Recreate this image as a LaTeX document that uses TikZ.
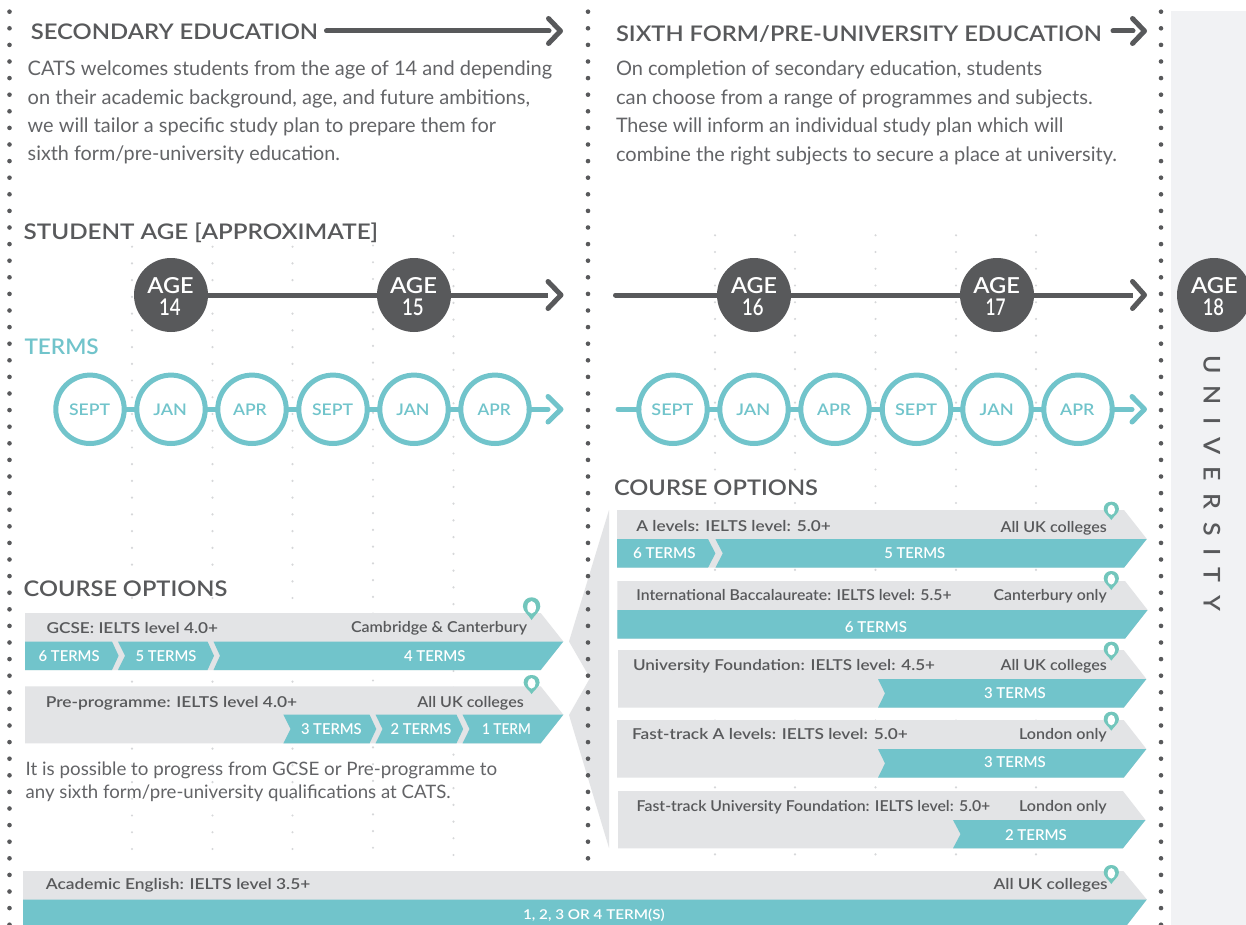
\documentclass[tikz,border=0pt]{standalone}
\usepackage{fontspec}
\usepackage{graphicx}
\setmainfont{Lato Semibold}[Numbers=Lining]
\newfontfamily\lightf{Lato}[Numbers=Lining]
\definecolor{catsdark}{HTML}{58595B}
\definecolor{catsbody}{HTML}{636467}
\definecolor{catsteal}{HTML}{71C4CB}
\definecolor{catsgrey}{HTML}{E3E4E6}
\definecolor{catspanel}{HTML}{F1F2F4}
\definecolor{catsdot}{HTML}{D6D7D9}
\definecolor{catspin}{HTML}{72C6BC}
\tikzset{
  agecirc/.style={circle,fill=catsdark,minimum size=74pt,inner sep=0pt,outer sep=0pt},
  termcirc/.style={circle,draw=catsteal,line width=5pt,fill=white,minimum size=68.4pt,inner sep=0pt,outer sep=0pt},
  darkline/.style={draw=catsdark,line width=5pt,line cap=round,line join=round},
  tealline/.style={draw=catsteal,line width=5pt,line cap=round,line join=round},
  txt/.style={anchor=base west,inner sep=0pt,outer sep=0pt}
}
% name, x-left, x-right, baseline, size, colour, text
\newcommand{\lbl}[7]{%
  \pgfmathsetmacro{\lblw}{#3-#2}%
  \node[txt,text=#6] (#1) at (#2,#4) {\resizebox{\lblw pt}{\height}{\fontsize{#5}{#5}\selectfont #7}};}
\newcommand{\lightlbl}[7]{%
  \pgfmathsetmacro{\lblw}{#3-#2}%
  \node[txt,text=#6] (#1) at (#2,#4) {\resizebox{\lblw pt}{\height}{\fontsize{#5}{#5}\selectfont\lightf #7}};}
% x-left, x-tip, x-back, top, mid, bottom
\newcommand{\greybar}[6]{\fill[catsgrey] (#1,#4) -- (#3,#4) -- (#2,#5) -- (#3,#6) -- (#1,#6) -- cycle;}
% x-left, x-notch, x-right, x-tip, mid, bottom
\newcommand{\tealseg}[6]{\fill[catsteal] (#1,#5) -- (#3,#5) -- (#4,{(#5+#6)/2}) -- (#3,#6) -- (#1,#6) -- (#2,{(#5+#6)/2}) -- cycle;}
% x-left, x-notch, x-tip, x-back, mid, bottom
\newcommand{\tealend}[6]{\fill[catsteal] (#1,#5) -- (#3,#5) -- (#4,#6) -- (#1,#6) -- (#2,{(#5+#6)/2}) -- cycle;}
% centre x, top, bottom, half width
\newcommand{\pinmark}[4]{%
  \pgfmathsetmacro{\pinc}{(#2+#3)/2}\pgfmathsetmacro{\pinh}{(#3-#2)/2}%
  \begin{scope}[shift={(#1,\pinc)},xscale=#4,yscale=\pinh]
    \fill[catspin] (0,1) .. controls (-0.35,0.55) and (-1,0.25) .. (-1,-0.2) .. controls (-1,-0.7) and (-0.55,-1) .. (0,-1) .. controls (0.55,-1) and (1,-0.7) .. (1,-0.2) .. controls (1,0.25) and (0.35,0.55) .. (0,1) -- cycle;
    \fill[white] (0,-0.12) ellipse (0.5 and 0.55);
  \end{scope}}
\begin{document}
\begin{tikzpicture}[x=1pt,y=-1pt]
\useasboundingbox (0,0) rectangle (1246,925);
\clip (0,0) rectangle (1246,925);
\fill[white] (0,0) rectangle (1246,925);
\fill[catspanel] (1171,11) rectangle (1246,925);

% light dot grid
\foreach \cx/\cy/\cn in {132/246.7/36, 212.5/246.7/36, 292.5/246.7/36, 373/245.5/36, 453.5/236/37, 715/235.3/37, 795/235.3/37, 875.5/235.3/37, 956/235.3/37, 1036/235.3/37}{
  \foreach \k in {0,...,\cn}{
    \fill[catsdot] (\cx,{\cy+16.73*\k}) circle (1.2);
  }
}

% grey funnel between the two columns
\fill[catsgrey] (609,510) -- (569,641.5) -- (590,678) -- (569,715) -- (609,848) -- cycle;

% dotted dividers
\foreach \k in {0,...,55}{
  \fill[catsdark] (9.5,{11.7+16.6*\k}) circle (2.3);
  \fill[catsdark] (1161,{11.7+16.6*\k}) circle (2.3);
}
\foreach \k in {0,...,51}{
  \fill[catsdark] (588,{11.7+16.6*\k}) circle (2.3);
}

% headers
\lbl{hsec}{30.8}{318}{39.3}{21.5}{catsdark}{SECONDARY EDUCATION}
\coordinate (hsecs) at (326.5,31);
\coordinate (hsece) at (549,31);
\draw[darkline] (hsecs) -- (hsece);
\draw[darkline] (548.5,18.5) -- (560.5,31) -- (548.5,43.5);
\lightlbl{b1}{27.7}{552}{76}{20}{catsbody}{CATS welcomes students from the age of 14 and depending}
\lightlbl{b2}{27.7}{530}{105}{20}{catsbody}{on their academic background, age, and future ambitions,}
\lightlbl{b3}{27.7}{496}{132.7}{20}{catsbody}{we will tailor a specific study plan to prepare them for}
\lightlbl{b4}{27.7}{340}{161}{20}{catsbody}{sixth form/pre-university education.}

\lbl{hsix}{616}{1101.7}{41.3}{21.5}{catsdark}{SIXTH FORM/PRE-UNIVERSITY EDUCATION}
\coordinate (hsixs) at (1113,31);
\coordinate (hsixe) at (1133,31);
\draw[darkline] (hsixs) -- (hsixe);
\draw[darkline] (1132.5,18.5) -- (1144.5,31) -- (1132.5,43.5);
\lightlbl{c1}{616}{1042}{75.3}{20}{catsbody}{On completion of secondary education, students}
\lightlbl{c2}{616}{1092.7}{104.3}{20}{catsbody}{can choose from a range of programmes and subjects.}
\lightlbl{c3}{616}{1063.4}{132.3}{20}{catsbody}{These will inform an individual study plan which will}
\lightlbl{c4}{616}{1117}{161.3}{20}{catsbody}{combine the right subjects to secure a place at university.}

\lbl{hage}{23.7}{378}{239.3}{21.5}{catsdark}{STUDENT AGE [APPROXIMATE]}
\lbl{hterms}{24.5}{98.8}{354.3}{21.5}{catsteal}{TERMS}

% age line, left
\node[agecirc] (a14) at (171,295) {};
\node[agecirc] (a15) at (414,295) {};
\coordinate (aleft) at (548,295);
\draw[darkline,line cap=butt] (a14) -- (a15);
\draw[darkline,line cap=butt] (a15) -- (aleft);
\draw[darkline] (548,281.5) -- (561,295) -- (548,308.5);
\lbl{a14a}{147.4}{193.7}{293}{22}{white}{AGE}
\lbl{a14b}{159}{180.6}{315.5}{23}{white}{14}
\lbl{a15a}{390}{437}{293}{22}{white}{AGE}
\lbl{a15b}{402}{423.7}{315.5}{23}{white}{15}

% age line, right
\node[agecirc] (a16) at (754,295) {};
\node[agecirc] (a17) at (997,295) {};
\node[agecirc] (a18) at (1214,295) {};
\coordinate (arstart) at (615.5,295);
\coordinate (arend) at (1133,295);
\draw[darkline] (arstart) -- (a16);
\draw[darkline,line cap=butt] (a16) -- (a17);
\draw[darkline,line cap=butt] (a17) -- (arend);
\draw[darkline] (1132.5,281.5) -- (1144.5,295) -- (1132.5,308.5);
\lbl{a16a}{731}{777}{293}{22}{white}{AGE}
\lbl{a16b}{742}{763.5}{315.5}{23}{white}{16}
\lbl{a17a}{973.4}{1020}{293}{22}{white}{AGE}
\lbl{a17b}{985.7}{1005.7}{315.5}{23}{white}{17}
\lbl{a18a}{1191}{1237.6}{293}{22}{white}{AGE}
\lbl{a18b}{1202.8}{1224}{315.5}{23}{white}{18}

% terms, left
\node[termcirc] (t1) at (90,409.3) {};
\node[termcirc] (t2) at (171,409.3) {};
\node[termcirc] (t3) at (252,409.3) {};
\node[termcirc] (t4) at (333,409.3) {};
\node[termcirc] (t5) at (414,409.3) {};
\node[termcirc] (t6) at (495,409.3) {};
\coordinate (tend) at (548,409.3);
\foreach \p/\q in {t1/t2,t2/t3,t3/t4,t4/t5,t5/t6}{\draw[tealline,line cap=butt] (\p) -- (\q);}
\draw[tealline] (t6) -- (tend);
\draw[tealline] (548,396.5) -- (561,409.3) -- (548,422);
\lbl{t1l}{69}{110}{415}{16}{catsteal}{SEPT}
\lbl{t2l}{153.4}{187}{415}{16}{catsteal}{JAN}
\lbl{t3l}{233}{266.8}{415}{16}{catsteal}{APR}
\lbl{t4l}{312}{353}{415}{16}{catsteal}{SEPT}
\lbl{t5l}{396.4}{429.6}{415}{16}{catsteal}{JAN}
\lbl{t6l}{477.5}{510.7}{415}{16}{catsteal}{APR}

% terms, right
\node[termcirc] (r1) at (673,409.3) {};
\node[termcirc] (r2) at (754,409.3) {};
\node[termcirc] (r3) at (835,409.3) {};
\node[termcirc] (r4) at (916.5,409.3) {};
\node[termcirc] (r5) at (997,409.3) {};
\node[termcirc] (r6) at (1078,409.3) {};
\coordinate (rstart) at (618,409.3);
\coordinate (rend) at (1132,409.3);
\draw[tealline] (rstart) -- (r1);
\foreach \p/\q in {r1/r2,r2/r3,r3/r4,r4/r5,r5/r6}{\draw[tealline,line cap=butt] (\p) -- (\q);}
\draw[tealline] (r6) -- (rend);
\draw[tealline] (1132,396.5) -- (1144.5,409.3) -- (1132,422);
\lbl{r1l}{651.4}{693.4}{415}{16}{catsteal}{SEPT}
\lbl{r2l}{736.3}{770.3}{415}{16}{catsteal}{JAN}
\lbl{r3l}{817}{851}{415}{16}{catsteal}{APR}
\lbl{r4l}{895}{937}{415}{16}{catsteal}{SEPT}
\lbl{r5l}{979.7}{1013.7}{415}{16}{catsteal}{JAN}
\lbl{r6l}{1060}{1094.4}{415}{16}{catsteal}{APR}

% university
\node[txt,rotate=-90,text=catsdark] (univ) at (1203.6,355) {\resizebox{256pt}{\height}{\fontsize{23}{23}\selectfont\addfontfeatures{LetterSpace=50}UNIVERSITY}};

% course options, left
\lbl{hcl}{23.7}{227.3}{596.7}{21.5}{catsdark}{COURSE OPTIONS}
\greybar{25}{563.3}{540.7}{613}{641.5}{670}
\tealseg{25}{25}{112}{118.6}{641.5}{670}
\tealseg{118}{125}{207.5}{214}{641.5}{670}
\tealend{213.5}{220}{563.3}{540.7}{641.5}{670}
\lbl{gcse}{46.6}{218}{633.7}{15}{catsdark}{GCSE: IELTS level 4.0+}
\lbl{gcsec}{351}{527}{632}{15}{catsdark}{Cambridge \& Canterbury}
\lbl{g6}{38.7}{99.6}{661}{15}{white}{6 TERMS}
\lbl{g5}{135.6}{196.4}{661}{15}{white}{5 TERMS}
\lbl{g4}{404}{465.6}{661}{15}{white}{4 TERMS}
\pinmark{531.6}{597.3}{620}{8.7}

\greybar{25}{563.3}{540.7}{686.3}{714.7}{743.3}
\tealseg{283.4}{290.5}{369.6}{376.3}{714.7}{743.3}
\tealseg{375.5}{382.6}{456.5}{463.2}{714.7}{743.3}
\tealend{462.5}{469.6}{563.3}{540.7}{714.7}{743.3}
\lbl{pre}{45.8}{297.2}{707}{15}{catsdark}{Pre-programme: IELTS level 4.0+}
\lbl{prec}{417.4}{523.7}{707.3}{15}{catsdark}{All UK colleges}
\lbl{p3}{301}{361.7}{734.3}{15}{white}{3 TERMS}
\lbl{p2}{390.5}{451.4}{734.3}{15}{white}{2 TERMS}
\lbl{p1}{482}{531}{734.3}{15}{white}{1 TERM}
\pinmark{531.6}{675}{694}{8}

\lightlbl{n1}{25.7}{497}{775}{18.5}{catsbody}{It is possible to progress from GCSE or Pre-programme to}
\lightlbl{n2}{25.7}{450.6}{798.3}{18.5}{catsbody}{any sixth form/pre-university qualifications at CATS.}

% course options, right
\lbl{hcr}{614}{818}{495}{21.5}{catsdark}{COURSE OPTIONS}
\greybar{617}{1146.8}{1124}{510}{539}{567.7}
\tealseg{617}{617}{708}{715.4}{539}{567.7}
\tealend{715.4}{722.8}{1146.8}{1124}{539}{567.7}
\lbl{al}{636.3}{830.7}{531.7}{15}{catsdark}{A levels: IELTS level: 5.0+}
\lbl{alc}{1000.5}{1106.8}{532.3}{15}{catsdark}{All UK colleges}
\lbl{al6}{633}{695.6}{558.3}{15}{white}{6 TERMS}
\lbl{al5}{884.3}{945.3}{558.3}{15}{white}{5 TERMS}
\pinmark{1111.3}{501.7}{520}{7.6}

\greybar{617.3}{1147.6}{1125}{581}{610}{638.7}
\tealend{617.3}{617.3}{1147.6}{1125}{610}{638.7}
\lbl{ib}{636.3}{951.5}{600.7}{15}{catsdark}{International Baccalaureate: IELTS level: 5.5+}
\lbl{ibc}{993.5}{1106.8}{600.7}{15}{catsdark}{Canterbury only}
\lbl{ib6}{844.8}{907}{632}{15}{white}{6 TERMS}
\pinmark{1111.3}{571}{590}{7.6}

\greybar{618}{1146.4}{1123.7}{650}{679}{707.7}
\tealend{878}{885}{1146.4}{1123.7}{679}{707.7}
\lbl{uf}{633}{935}{670}{15}{catsdark}{University Foundation: IELTS level: 4.5+}
\lbl{ufc}{1000.5}{1106.8}{670.5}{15}{catsdark}{All UK colleges}
\lbl{uf3}{984}{1045.8}{698}{15}{white}{3 TERMS}
\pinmark{1111.3}{641.7}{660.7}{7.6}

\greybar{617}{1146.4}{1123.7}{720}{749}{777.7}
\tealend{878}{885}{1146.4}{1123.7}{749}{777.7}
\lbl{fa}{632}{907.8}{739}{15}{catsdark}{Fast-track A levels: IELTS level: 5.0+}
\lbl{fac}{1019}{1106.8}{739.5}{15}{catsdark}{London only}
\lbl{fa3}{984}{1045.8}{767.3}{15}{white}{3 TERMS}
\pinmark{1111.3}{711.7}{730.7}{7.6}

\greybar{618}{1145.5}{1122.9}{791}{820}{848.3}
\tealend{953}{960.5}{1145.5}{1122.9}{820}{848.3}
\lbl{fu}{636.7}{990.2}{811}{15}{catsdark}{Fast-track University Foundation: IELTS level: 5.0+}
\lbl{fuc}{1019}{1106.8}{811}{15}{catsdark}{London only}
\lbl{fu2}{1005}{1066.8}{840}{15}{white}{2 TERMS}

% academic English
\fill[catsgrey] (23,871) -- (1123.3,871) -- (1146.8,899.5) -- (1127,925) -- (23,925) -- cycle;
\fill[catsteal] (23,899.5) -- (1146.8,899.5) -- (1127,925) -- (23,925) -- cycle;
\lbl{ae}{45.8}{310.3}{889.3}{15}{catsdark}{Academic English: IELTS level 3.5+}
\lbl{aec}{993.5}{1107.6}{889}{15}{catsdark}{All UK colleges}
\lbl{ae1}{523}{664.7}{919}{13.5}{white}{1, 2, 3 OR 4 TERM(S)}
\pinmark{1111.3}{865}{884}{7.6}
\end{tikzpicture}
\end{document}
